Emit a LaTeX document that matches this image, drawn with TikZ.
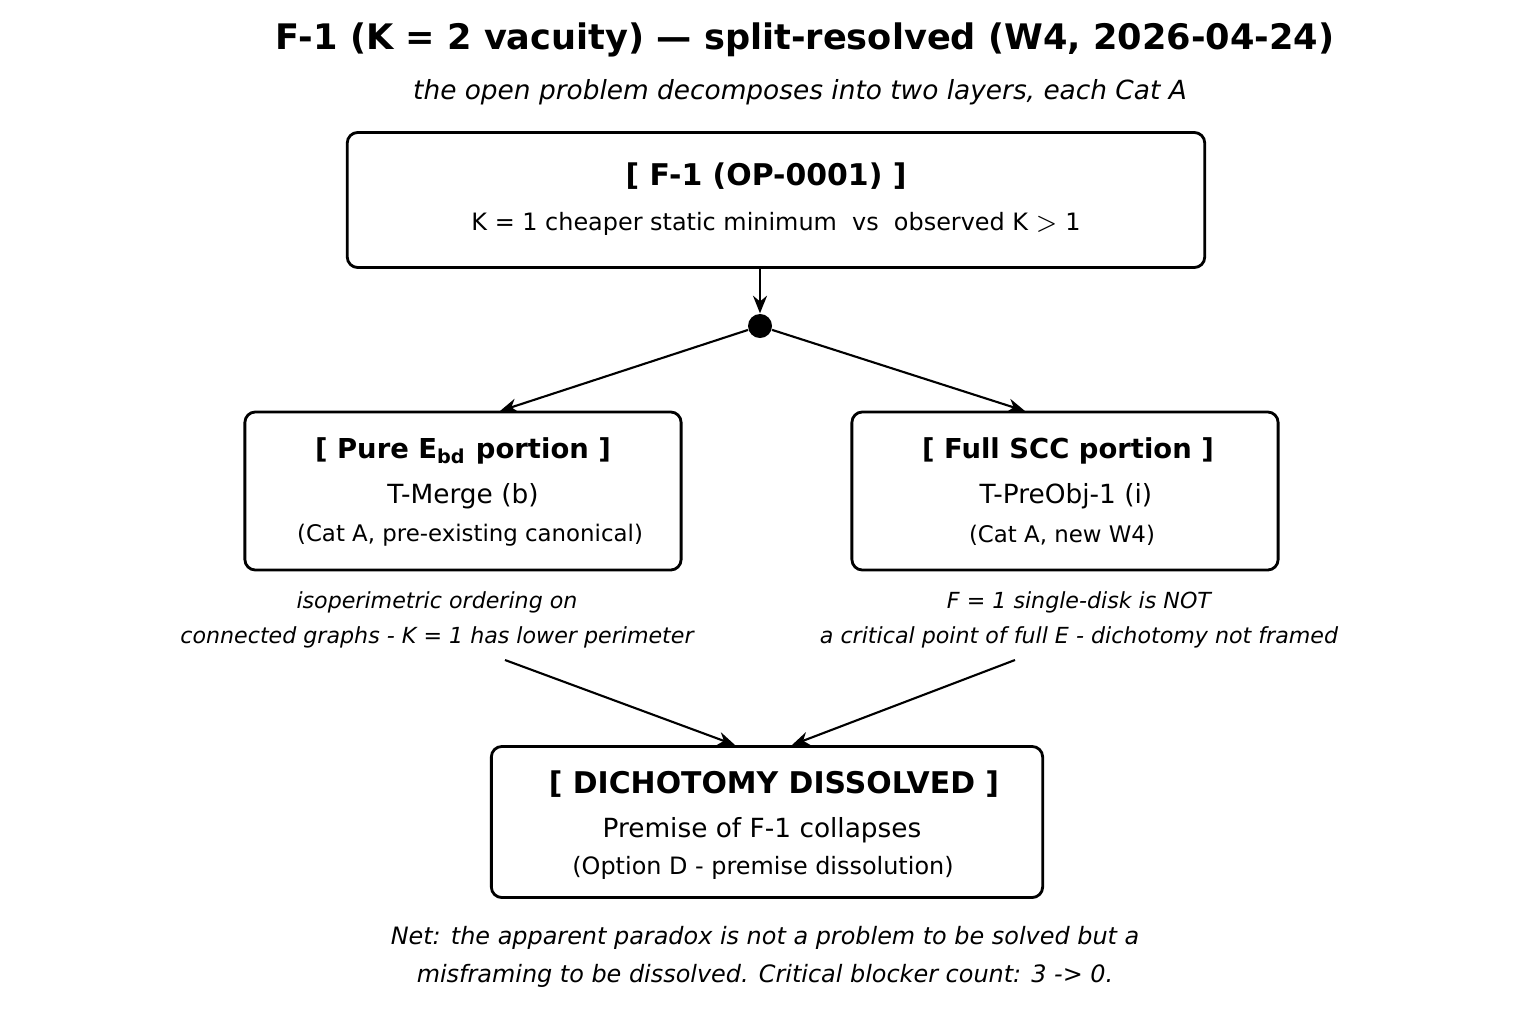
\documentclass[tikz,border=0pt]{standalone}
\usepackage{fontspec}
\setmainfont{DejaVu Sans}
\usetikzlibrary{positioning,arrows.meta}
\tikzstyle{arrow} = [semithick,-{Stealth[length=5pt,width=4pt]}]
\tikzstyle{box} = [draw,thick,rounded corners=3pt,align=center,inner sep=0pt]
\tikzstyle{note} = [align=center,font=\fontsize{6.3}{10}\selectfont\itshape]
\begin{document}
\begin{tikzpicture}[x=0.01cm,y=-0.01cm]
	\useasboundingbox (0,0) rectangle (1536,1024);
	\node (title) at (805,40) {\fontsize{10}{12}\selectfont\bfseries F-1 (K = 2 vacuity) --- split-resolved (W4, 2026-04-24)};
	\node[note,font=\fontsize{7.5}{10}\selectfont\itshape] (sub) at (800,92) {the open problem decomposes into two layers, each Cat A};
	% boxes
	\node[box,minimum width=8.57cm,minimum height=1.35cm] (op) at (776,200) {};
	\node at (766,176) {\fontsize{8.5}{10}\selectfont\bfseries [ F-1 (OP-0001) ]};
	\node at (776,224) {\fontsize{6.8}{8}\selectfont K = 1 cheaper static minimum\ \ vs\ \ observed K $>$ 1};
	\node[circle,fill=black,inner sep=0pt,minimum size=0.24cm] (split) at (760,326) {};
	\node[box,minimum width=4.36cm,minimum height=1.58cm] (ebd) at (463,491) {};
	\node at (463,451) {\fontsize{7.8}{10}\selectfont\bfseries [ Pure E\textsubscript{bd} portion ]};
	\node at (463,496) {\fontsize{7.5}{10}\selectfont T-Merge (b)};
	\node at (470,535) {\fontsize{6.5}{8}\selectfont (Cat A, pre-existing canonical)};
	\node[box,minimum width=4.26cm,minimum height=1.58cm] (scc) at (1065,491) {};
	\node at (1068,451) {\fontsize{7.8}{10}\selectfont\bfseries [ Full SCC portion ]};
	\node at (1066,496) {\fontsize{7.5}{10}\selectfont T-PreObj-1 (i)};
	\node at (1062,535) {\fontsize{6.5}{8}\selectfont (Cat A, new W4)};
	\node[note] (noteL) at (437,620) {isoperimetric ordering on\\connected graphs - K = 1 has lower perimeter};
	\node[note] (noteR) at (1079,620) {F = 1 single-disk is NOT\\a critical point of full E - dichotomy not framed};
	\node[box,minimum width=5.51cm,minimum height=1.51cm] (dis) at (767,822) {};
	\node at (774,784) {\fontsize{8.5}{10}\selectfont\bfseries [ DICHOTOMY DISSOLVED ]};
	\node at (762,830) {\fontsize{7.5}{10}\selectfont Premise of F-1 collapses};
	\node at (763,868) {\fontsize{6.8}{8}\selectfont (Option D - premise dissolution)};
	\node[note,font=\fontsize{6.8}{10.8}\selectfont\itshape] (net) at (765,957) {Net: the apparent paradox is not a problem to be solved but a\\misframing to be dissolved. Critical blocker count: 3 -> 0.};
	% arrow ends
	\coordinate (opS) at (760,268);
	\coordinate (ebdN) at (500,411);
	\coordinate (sccN) at (1025,411);
	\coordinate (fromL) at (505,660);
	\coordinate (fromR) at (1015,660);
	\coordinate (disL) at (735,745);
	\coordinate (disR) at (792,745);
	\draw[arrow] (opS) -- (split);
	\draw[arrow] (split) -- (ebdN);
	\draw[arrow] (split) -- (sccN);
	\draw[arrow] (fromL) -- (disL);
	\draw[arrow] (fromR) -- (disR);
\end{tikzpicture}
\end{document}
